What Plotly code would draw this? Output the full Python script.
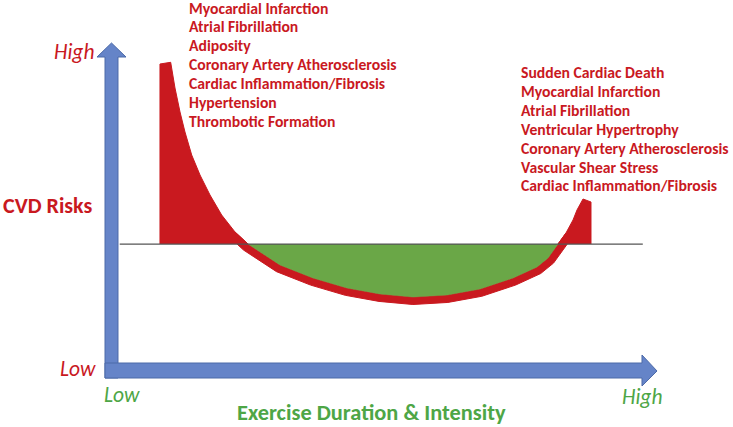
import numpy as np
import plotly.graph_objects as go

# ---------------- data (conceptual U-shaped curve) ----------------
exercise = [8.97, 10.93, 11.72, 12.64, 13.55, 14.78, 16.30, 18.13, 20.27, 22.71, 25.09,
            30.95, 37.00, 43.22, 49.27, 55.31, 61.54, 67.58, 73.63, 78.02, 80.04,
            81.87, 83.33, 84.62, 85.35, 86.45]
risk = [99.35, 99.9, 91.56, 83.77, 77.27, 69.81, 63.31, 56.82, 50.32, 44.81, 40.9,
        34.09, 29.87, 26.62, 24.68, 23.70, 24.35, 26.30, 29.87, 33.44, 36.36,
        40.9, 44.48, 48.70, 51.95, 55.52]
right_edge_x = 87.91
right_edge_top = 54.55
baseline_risk = 40.9
baseline_x = [1.6, 97.4]

left_risks = ["Myocardial Infarction", "Atrial Fibrillation", "Adiposity",
              "Coronary Artery Atherosclerosis", "Cardiac Inflammation/Fibrosis",
              "Hypertension", "Thrombotic Formation"]
right_risks = ["Sudden Cardiac Death", "Myocardial Infarction", "Atrial Fibrillation",
               "Ventricular Hypertrophy", "Coronary Artery Atherosclerosis",
               "Vascular Shear Stress", "Cardiac Inflammation/Fibrosis"]

RED = "#C9191F"
GREEN_FILL = "#6AA747"
GREEN_TXT = "#4EA646"
BLUE = "#6584C8"
BLUE_EDGE = "#4C6AA8"
FONT = "Carlito, Calibri, Lato, sans-serif"

W, H = 733, 427
SX, SY = 5.46, 3.08          # pixels per data unit on each axis
X0, Y0 = 111, 370            # pixel position of the data origin
BAND = 7.5                   # thickness of the red curve band (px)

# indices of baseline crossings
i1 = risk.index(baseline_risk)
i2 = len(risk) - 1 - risk[::-1].index(baseline_risk)

# red band under the curve: the curve plus a copy pushed outward (below) by BAND px
seg_x = np.array(exercise[i1 - 1:i2 + 2]) * SX
seg_y = np.array(risk[i1 - 1:i2 + 2]) * SY
dx = np.gradient(seg_x)
dy = np.gradient(seg_y)
n = np.hypot(dx, dy)
off_x = (seg_x + BAND * dy / n) / SX
off_y = (seg_y - BAND * dx / n) / SY
band_x = list(np.array(exercise[i1 - 1:i2 + 2])) + list(off_x[::-1])
band_y = list(np.array(risk[i1 - 1:i2 + 2])) + list(off_y[::-1])

fig = go.Figure()

fig.add_trace(go.Scatter(x=band_x, y=band_y, mode="lines", fill="toself", fillcolor=RED,
                         line=dict(color=RED, width=1), hoverinfo="skip"))
# left red region
fig.add_trace(go.Scatter(x=[exercise[0]] + exercise[:i1 + 1], y=[baseline_risk] + risk[:i1 + 1],
                         mode="lines", fill="toself", fillcolor=RED,
                         line=dict(color=RED, width=1), hoverinfo="skip"))
# right red region
fig.add_trace(go.Scatter(x=exercise[i2:] + [right_edge_x, right_edge_x],
                         y=risk[i2:] + [right_edge_top, baseline_risk],
                         mode="lines", fill="toself", fillcolor=RED,
                         line=dict(color=RED, width=1), hoverinfo="skip"))
# green region
fig.add_trace(go.Scatter(x=exercise[i1:i2 + 1], y=risk[i1:i2 + 1], mode="lines",
                         fill="toself", fillcolor=GREEN_FILL,
                         line=dict(color=GREEN_FILL, width=0.5), hoverinfo="skip"))
# neutral baseline
fig.add_trace(go.Scatter(x=baseline_x, y=[baseline_risk, baseline_risk], mode="lines",
                         line=dict(color="#555555", width=1.3), hoverinfo="skip"))


def P(px, py):
    return f"{px / W:.5f},{1 - py / H:.5f}"


def path(points):
    return "M" + " L".join(P(a, b) for a, b in points) + " Z"


shapes = [
    dict(type="path", xref="paper", yref="paper",
         path=path([(105, 378), (105, 57), (97, 57), (111.5, 43), (126, 57), (118, 57), (118, 378)]),
         fillcolor=BLUE, line=dict(color=BLUE_EDGE, width=1), layer="below"),
    dict(type="path", xref="paper", yref="paper",
         path=path([(105, 363), (642, 363), (642, 355), (657, 371), (642, 386), (642, 378), (105, 378)]),
         fillcolor=BLUE, line=dict(color=BLUE_EDGE, width=1), layer="below"),
]

ann = []


def txt(s, px, py, color, size, bold=False, italic=False, anchor="left"):
    t = s
    if bold:
        t = f"<b>{t}</b>"
    if italic:
        t = f"<i>{t}</i>"
    ann.append(dict(text=t, x=px / W, y=1 - py / H, xref="paper", yref="paper",
                    xanchor=anchor, yanchor="middle", showarrow=False,
                    font=dict(family=FONT, size=size, color=color)))


for i, s in enumerate(left_risks):
    txt(s, 187, 8 + 18.85 * i, RED, 15.7, bold=True)
for i, s in enumerate(right_risks):
    txt(s, 519, 72.5 + 18.9 * i, RED, 15.7, bold=True)

txt("High", 96, 52, RED, 21.5, italic=True, anchor="right")
txt("Low", 98, 369, RED, 21.5, italic=True, anchor="right")
txt("CVD Risks", 1, 205, RED, 22, bold=True)
txt("Low", 102, 395, GREEN_TXT, 21.5, italic=True)
txt("High", 664, 397, GREEN_TXT, 21.5, italic=True, anchor="right")
txt("Exercise Duration &amp; Intensity", 371, 412, GREEN_TXT, 22.4, bold=True, anchor="center")

fig.update_layout(
    width=W, height=H, margin=dict(l=0, r=0, t=0, b=0),
    paper_bgcolor="white", plot_bgcolor="white", showlegend=False,
    xaxis=dict(range=[-X0 / SX, (W - X0) / SX], visible=False, fixedrange=True),
    yaxis=dict(range=[-(H - Y0) / SY, Y0 / SY], visible=False, fixedrange=True),
    shapes=shapes, annotations=ann,
)

fig.write_html("out.html", config={"displayModeBar": False})

# remove default page margin so the figure sits at the window's top-left corner
with open("out.html", encoding="utf-8") as f:
    html = f.read()
html = html.replace("<head>", "<head><style>html,body{margin:0;padding:0;overflow:hidden;}</style>", 1)
with open("out.html", "w", encoding="utf-8") as f:
    f.write(html)
